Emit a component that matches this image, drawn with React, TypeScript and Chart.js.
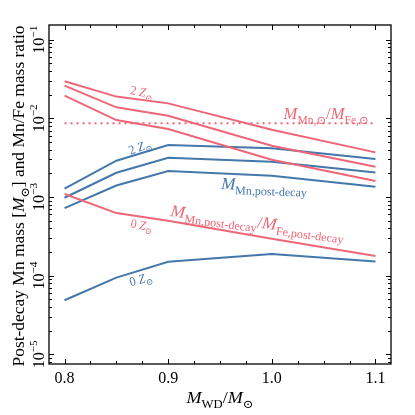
import React, { useEffect, useRef } from "react";
import { Chart, registerables } from "chart.js";
Chart.register(...registerables);

// ---- data ----
const masses = [0.8, 0.85, 0.9, 1.0, 1.1];
// Mn/Fe mass ratio (red)
const ratio2Z = [0.0296, 0.0189, 0.0155, 0.00718, 0.00369];
const ratio1Z = [0.0261, 0.0138, 0.0108, 0.00449, 0.00243];
const ratioHalfZ = [0.0195, 0.0095, 0.0073, 0.00298, 0.0016];
const ratio0Z = [0.00109, 0.000624, 0.000498, 0.000294, 0.000178];
// post-decay Mn mass (blue)
const mn2Z = [0.00128, 0.00289, 0.00458, 0.00417, 0.00304];
const mn1Z = [0.000977, 0.00203, 0.00315, 0.00281, 0.00205];
const mnHalfZ = [0.000723, 0.0014, 0.00214, 0.00186, 0.00135];
const mn0Z = [0.0000486, 0.0000944, 0.00015, 0.000188, 0.000151];
const solarRatio = 0.00863;
const solarRange = [0.8, 1.1];

const xTicks = [0.8, 0.9, 1.0, 1.1];
const xTickLabels = ["0.8", "0.9", "1.0", "1.1"];
const yDecades = [-5, -4, -3, -2, -1];

const RED = "#EE6677";
const BLUE = "#4477AA";
const FONT = "'Liberation Serif', 'DejaVu Serif', serif";

type Seg = { t: string; it?: boolean; sub?: boolean; sup?: boolean };

const ZSUN = (n: string): Seg[] => [{ t: n + " " }, { t: "Z", it: true }, { t: "⊙", sub: true }];

// annotations placed in data space (x value, log10 y value)
const annotations: { x: number; ly: number; a: number; s: number; w: number; c: string; segs: Seg[] }[] = [
  { x: 0.8745, ly: -1.66, a: 10, s: 13, w: 23, c: RED, segs: ZSUN("2") },
  { x: 1.0524, ly: -1.936, a: 0, s: 17, w: 85, c: RED, segs: [{ t: "M", it: true }, { t: "Mn,⊙", sub: true }, { t: "/" }, { t: "M", it: true }, { t: "Fe,⊙", sub: true }] },
  { x: 0.8726, ly: -2.36, a: -20, s: 13, w: 23, c: BLUE, segs: ZSUN("2") },
  { x: 0.9926, ly: -2.841, a: 2, s: 17, w: 86, c: BLUE, segs: [{ t: "M", it: true }, { t: "Mn,post-decay", sub: true }] },
  { x: 0.9863, ly: -3.312, a: 7.5, s: 17, w: 175, c: RED, segs: [{ t: "M", it: true }, { t: "Mn,post-decay", sub: true }, { t: "/" }, { t: "M", it: true }, { t: "Fe,post-decay", sub: true }] },
  { x: 0.8745, ly: -3.354, a: 9, s: 13, w: 22, c: RED, segs: ZSUN("0") },
  { x: 0.8735, ly: -4.042, a: -15, s: 13, w: 23, c: BLUE, segs: ZSUN("0") },
];

function segFont(s: Seg, size: number) {
  const sz = s.sub || s.sup ? size * 0.7 : size;
  return `${s.it ? "italic " : ""}${sz}px ${FONT}`;
}

function drawRich(
  ctx: CanvasRenderingContext2D,
  segs: Seg[],
  x: number,
  y: number,
  angleDeg: number,
  size: number,
  color: string,
  targetW?: number
) {
  ctx.save();
  ctx.translate(x, y);
  ctx.rotate((angleDeg * Math.PI) / 180);
  let total = 0;
  const widths = segs.map((s) => {
    ctx.font = segFont(s, size);
    const w = ctx.measureText(s.t).width;
    total += w;
    return w;
  });
  if (targetW) ctx.scale(targetW / total, 1);
  let cx = -total / 2;
  ctx.fillStyle = color;
  ctx.textBaseline = "alphabetic";
  ctx.textAlign = "left";
  const baseY = size * 0.35;
  segs.forEach((s, i) => {
    ctx.font = segFont(s, size);
    const dy = s.sub ? size * 0.28 : s.sup ? -size * 0.42 : 0;
    ctx.fillText(s.t, cx, baseY + dy);
    cx += widths[i];
  });
  ctx.restore();
}

const axesPlugin = {
  id: "axesPlugin",
  afterDraw(chart: any) {
    const ctx: CanvasRenderingContext2D = chart.ctx;
    const { left, right, top, bottom } = chart.chartArea;
    const xs = chart.scales.x;
    const ys = chart.scales.y;
    ctx.save();
    ctx.strokeStyle = "#000";
    ctx.lineWidth = 1.3;
    ctx.strokeRect(left, top, right - left, bottom - top);
    ctx.lineWidth = 1;
    const tick = (x1: number, y1: number, x2: number, y2: number) => {
      ctx.beginPath();
      ctx.moveTo(x1, y1);
      ctx.lineTo(x2, y2);
      ctx.stroke();
    };
    // x ticks
    for (let k = 0; k <= 12; k++) {
      const v = 0.8 + k * 0.025;
      const px = Math.round(xs.getPixelForValue(v)) + 0.5;
      const L = k % 4 === 0 ? 5 : 3;
      tick(px, bottom, px, bottom - L);
      tick(px, top, px, top + L);
    }
    // y ticks
    for (let d = -6; d <= 0; d++) {
      for (let m = 1; m <= 9; m++) {
        const v = m * Math.pow(10, d);
        if (v < ys.min || v > ys.max) continue;
        const py = Math.round(ys.getPixelForValue(v)) + 0.5;
        const L = m === 1 ? 5 : 3;
        tick(left, py, left + L, py);
        tick(right, py, right - L, py);
      }
    }
    // x tick labels
    ctx.fillStyle = "#000";
    ctx.font = `16px ${FONT}`;
    ctx.textAlign = "center";
    ctx.textBaseline = "alphabetic";
    xTicks.forEach((v, i) => {
      ctx.fillText(xTickLabels[i], xs.getPixelForValue(v), 383);
    });
    // y tick labels (rotated)
    yDecades.forEach((d) => {
      const py = ys.getPixelForValue(Math.pow(10, d));
      drawRich(ctx, [{ t: "10" }, { t: "−" + Math.abs(d), sup: true }], 38, py, -90, 16, "#000");
    });
    // axis titles
    drawRich(
      ctx,
      [{ t: "M", it: true }, { t: "WD", sub: true }, { t: "/" }, { t: "M", it: true }, { t: "⊙", sub: true }],
      220,
      397,
      0,
      17,
      "#000",
      67
    );
    drawRich(
      ctx,
      [{ t: "Post-decay Mn mass [" }, { t: "M", it: true }, { t: "⊙", sub: true }, { t: "] and Mn/Fe mass ratio" }],
      18,
      196,
      -90,
      17,
      "#000",
      341
    );
    // annotations
    annotations.forEach((a) => {
      drawRich(ctx, a.segs, xs.getPixelForValue(a.x), ys.getPixelForValue(Math.pow(10, a.ly)), a.a, a.s, a.c, a.w);
    });
    ctx.restore();
  },
};

const series = (arr: number[]) => masses.map((m, i) => ({ x: m, y: arr[i] }));

export default function App() {
  const ref = useRef<HTMLCanvasElement | null>(null);
  useEffect(() => {
    if (!ref.current) return;
    const line = (arr: number[], color: string) => ({
      data: series(arr),
      borderColor: color,
      borderWidth: 2,
      pointRadius: 0,
      fill: false,
      tension: 0,
    });
    const chart = new Chart(ref.current, {
      type: "line",
      data: {
        datasets: [
          line(ratio2Z, RED),
          line(ratio1Z, RED),
          line(ratioHalfZ, RED),
          line(ratio0Z, RED),
          line(mn2Z, BLUE),
          line(mn1Z, BLUE),
          line(mnHalfZ, BLUE),
          line(mn0Z, BLUE),
          {
            data: solarRange.map((x) => ({ x, y: solarRatio })),
            borderColor: RED,
            borderWidth: 2,
            borderDash: [2, 4],
            pointRadius: 0,
            fill: false,
          },
        ] as any,
      },
      options: {
        animation: false,
        responsive: false,
        layout: { padding: { left: 49, right: 24, top: 25, bottom: 51 } },
        plugins: { legend: { display: false }, tooltip: { enabled: false } },
        scales: {
          x: { type: "linear", min: 0.785, max: 1.115, display: false },
          y: { type: "logarithmic", min: Math.pow(10, -5.124), max: Math.pow(10, -0.813), display: false },
        },
      } as any,
      plugins: [axesPlugin],
    });
    return () => chart.destroy();
  }, []);
  return (
    <div style={{ position: "absolute", left: 0, top: 0, width: 415, height: 415, background: "#fff" }}>
      <canvas ref={ref} width={415} height={415} style={{ display: "block" }} />
    </div>
  );
}
